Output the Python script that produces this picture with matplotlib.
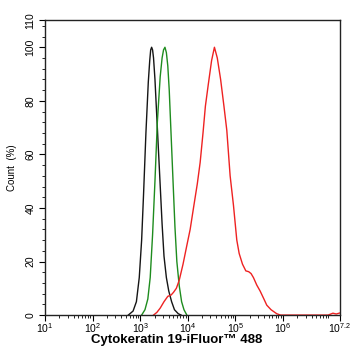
import numpy as np
import matplotlib
matplotlib.use("Agg")
import matplotlib.pyplot as plt
from matplotlib.ticker import MultipleLocator, FixedLocator, LogLocator, NullFormatter

plt.rcParams['font.family'] = ['Liberation Sans', 'DejaVu Sans']
plt.rcParams['mathtext.fontset'] = 'custom'
plt.rcParams['mathtext.rm'] = 'Liberation Sans'
plt.rcParams['mathtext.it'] = 'Liberation Sans'
plt.rcParams['mathtext.bf'] = 'Liberation Sans:bold'

# histogram traces, x given as log10(intensity), y in % of max count
black_logx = [2.75, 2.85, 2.92, 2.98, 3.03, 3.07, 3.12, 3.17, 3.20, 3.22, 3.24, 3.26, 3.28, 3.31, 3.36,
              3.41, 3.46, 3.50, 3.55, 3.60, 3.66, 3.72, 3.80, 3.86]
black_y = [0, 1.5, 5, 14, 28, 45, 68, 87, 95, 99, 100, 99, 96, 88, 70,
           52, 34, 22, 14, 9, 5, 2, 0.5, 0]

green_logx = [3.03, 3.10, 3.16, 3.21, 3.26, 3.31, 3.36, 3.42, 3.46, 3.49, 3.52, 3.55, 3.58, 3.61, 3.65,
              3.69, 3.73, 3.77, 3.82, 3.87, 3.92, 3.98]
green_y = [0, 2, 6, 14, 30, 50, 72, 89, 96, 99, 100, 98, 93, 84, 67,
           50, 33, 20, 11, 5, 2, 0]

red_logx = [3.28, 3.35, 3.42, 3.50, 3.58, 3.65, 3.70, 3.76, 3.82, 3.90, 3.98, 4.05, 4.12,
            4.20, 4.26, 4.32, 4.37, 4.43, 4.50, 4.56, 4.62, 4.69, 4.76, 4.82, 4.89, 4.96,
            5.03, 5.08, 5.15, 5.22, 5.28, 5.33, 5.38, 5.45, 5.52, 5.60, 5.66, 5.75, 5.87,
            5.95, 6.95, 7.05, 7.12, 7.2]
red_y = [0, 1, 2.6, 5, 7, 7.5, 8.5, 10, 13, 19, 26, 32, 40,
         49, 57, 68, 78, 86, 95, 100, 96, 88, 78, 69, 52, 41,
         28, 23, 19, 16.5, 16.2, 15.5, 14, 11.2, 9, 6, 3.7, 2, 0.5,
         0, 0, 0.7, 0.4, 0.8]

xtick_exp = [1, 2, 3, 4, 5, 6, 7.2]
xtick_labels = ['$10^{1}$', '$10^{2}$', '$10^{3}$', '$10^{4}$', '$10^{5}$', '$10^{6}$', '$10^{7.2}$']
ytick_vals = [0, 20, 40, 60, 80, 100, 110]

fig = plt.figure(figsize=(3.52, 3.47), dpi=100)
ax = fig.add_axes([0.128, 0.092, 0.838, 0.849])

ax.plot(10 ** np.array(black_logx), black_y, color='#151515', lw=1.0)
ax.plot(10 ** np.array(green_logx), green_y, color='#1e8c1e', lw=1.0)
ax.plot(10 ** np.array(red_logx), red_y, color='#ee2222', lw=1.0)

ax.set_xscale('log')
ax.set_xlim(10 ** 1, 10 ** 7.2)
ax.set_ylim(0, 110)

ax.xaxis.set_major_locator(FixedLocator([10 ** e for e in xtick_exp]))
ax.set_xticklabels(xtick_labels, fontsize=7.5)
ax.xaxis.set_minor_locator(LogLocator(base=10, subs=np.arange(2, 10), numticks=20))
ax.xaxis.set_minor_formatter(NullFormatter())

ax.yaxis.set_major_locator(FixedLocator(ytick_vals))
ax.yaxis.set_minor_locator(MultipleLocator(4))
ax.set_yticklabels([str(v) for v in ytick_vals], fontsize=7.5, rotation=90, va='center')

ax.tick_params(which='major', direction='out', length=4, width=0.8, pad=0.5)
ax.tick_params(which='minor', direction='out', length=2.2, width=0.6)
ax.tick_params(axis='y', pad=3)

for s in ax.spines.values():
    s.set_linewidth(1.0)
    s.set_color('#222222')

ax.set_xlabel('Cytokeratin 19-iFluor™ 488', fontsize=9.5, fontweight='bold', va='bottom')
ax.xaxis.set_label_coords(0.447, -0.1065)
ax.set_ylabel('Count  (%)', fontsize=7, labelpad=6)

fig.savefig('out.png', dpi=100)
